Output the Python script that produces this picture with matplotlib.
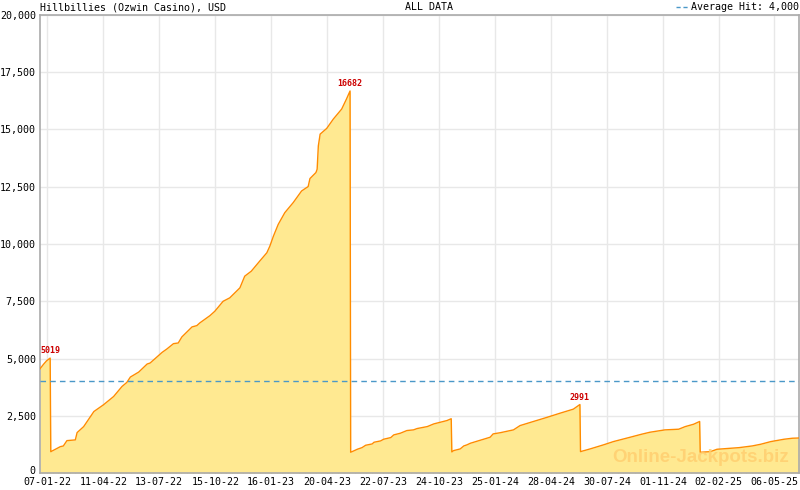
import numpy as np
import pandas as pd
import matplotlib
matplotlib.use('Agg')
import matplotlib.pyplot as plt
import matplotlib.dates as mdates
import matplotlib.transforms as mtransforms
from matplotlib.ticker import FuncFormatter

# 데이터
dates = [
    '2021-12-26', '2022-01-01', '2022-01-06', '2022-01-12', '2022-01-13',
    '2022-01-29', '2022-02-03', '2022-02-09', '2022-02-23', '2022-02-26',
    '2022-03-09', '2022-03-26', '2022-04-11', '2022-04-28', '2022-05-12',
    '2022-05-20', '2022-05-26', '2022-06-09', '2022-06-23', '2022-06-28',
    '2022-07-18', '2022-07-26', '2022-08-06', '2022-08-14', '2022-08-20',
    '2022-09-06', '2022-09-14', '2022-09-19', '2022-10-06', '2022-10-14',
    '2022-10-28', '2022-11-08', '2022-11-25', '2022-12-03', '2022-12-14',
    '2022-12-28', '2023-01-09', '2023-01-14', '2023-01-20', '2023-01-28',
    '2023-02-08', '2023-02-22', '2023-03-08', '2023-03-19', '2023-03-22',
    '2023-04-01', '2023-04-03', '2023-04-05', '2023-04-08', '2023-04-19',
    '2023-04-30', '2023-05-14', '2023-05-22', '2023-05-28', '2023-05-29',
    '2023-06-03', '2023-06-09', '2023-06-17', '2023-06-23', '2023-07-04',
    '2023-07-07', '2023-07-18', '2023-07-23', '2023-08-04', '2023-08-09',
    '2023-08-20', '2023-08-31', '2023-09-11', '2023-09-17', '2023-10-04',
    '2023-10-15', '2023-10-26', '2023-11-06', '2023-11-13', '2023-11-14',
    '2023-11-17', '2023-11-28', '2023-12-04', '2023-12-09', '2023-12-15',
    '2023-12-26', '2024-01-06', '2024-01-17', '2024-01-22', '2024-02-03',
    '2024-02-25', '2024-03-07', '2024-03-29', '2024-04-20', '2024-05-13',
    '2024-06-04', '2024-06-15', '2024-06-16', '2024-07-02', '2024-07-24',
    '2024-08-10', '2024-09-07', '2024-09-26', '2024-10-10', '2024-11-04',
    '2024-11-27', '2024-12-08', '2024-12-22', '2025-01-01', '2025-01-02',
    '2025-01-19', '2025-01-30', '2025-03-08', '2025-03-30', '2025-04-13',
    '2025-04-30', '2025-05-22', '2025-06-05', '2025-06-18',
]
values = [
    4550, 4750, 4900, 5019, 930,
    1151, 1180, 1414, 1445, 1765,
    2027, 2684, 2977, 3340, 3778,
    3953, 4190, 4409, 4759, 4803,
    5267, 5416, 5648, 5678, 5941,
    6379, 6436, 6554, 6873, 7062,
    7500, 7648, 8086, 8594, 8813,
    9251, 9618, 9907, 10345, 10857,
    11369, 11807, 12315, 12508, 12858,
    13121, 13265, 14285, 14798, 15047,
    15454, 15892, 16330, 16682, 906,
    963, 1036, 1108, 1211, 1270,
    1343, 1401, 1474, 1547, 1664,
    1737, 1854, 1883, 1941, 2027,
    2145, 2218, 2291, 2370, 920,
    978, 1051, 1182, 1226, 1299,
    1387, 1474, 1562, 1707, 1760,
    1883, 2071, 2247, 2422, 2613,
    2788, 2991, 933, 1051, 1226,
    1372, 1562, 1693, 1780, 1883,
    1912, 2027, 2130, 2250, 906,
    933, 1036, 1108, 1182, 1255,
    1372, 1474, 1518, 1530,
]
peak_dates = ['2022-01-12', '2023-05-28', '2024-06-15']
peak_values = [5019, 16682, 2991]
tick_dates = ['2022-01-07', '2022-04-11', '2022-07-13', '2022-10-15', '2023-01-16',
              '2023-04-20', '2023-07-22', '2023-10-24', '2024-01-25', '2024-04-28',
              '2024-07-30', '2024-11-01', '2025-02-02', '2025-05-06']
avg_hit = 4000

x = pd.to_datetime(dates)
ticks = pd.to_datetime(tick_dates)

mono = 'DejaVu Sans Mono'
plt.rcParams['font.family'] = mono

fig = plt.figure(figsize=(8, 4.9), dpi=100)
ax = fig.add_axes([40 / 800, 17 / 490, 759 / 800, 458 / 490])

ax.fill_between(x, values, 0, color='#ffe991', lw=0, zorder=2)
ax.plot(x, values, color='#ff8c00', lw=1.0, zorder=3)
ax.axhline(avg_hit, color='#4a98c8', lw=1, ls=(0, (4, 3)), zorder=4)

# 피크 값 표시
for d, v in zip(pd.to_datetime(peak_dates), peak_values):
    ax.annotate(str(v), xy=(d, v), xytext=(0, 2), textcoords='offset points',
                ha='center', va='bottom', fontsize=6, color='#cc0000',
                fontweight='bold', zorder=5)

ax.set_xlim(pd.Timestamp('2021-12-26'), pd.Timestamp('2025-06-16'))
ax.set_ylim(0, 20000)

ax.set_yticks(np.arange(0, 20001, 2500))
ax.yaxis.set_major_formatter(FuncFormatter(lambda v, p: f'{int(v):,}'))
ax.set_xticks(ticks)
ax.xaxis.set_major_formatter(mdates.DateFormatter('%d-%m-%y'))

# 보조 눈금 (라벨 간격의 1/10)
tnum = mdates.date2num(ticks)
step = (tnum[-1] - tnum[0]) / (len(tnum) - 1) / 10
lo, hi = ax.get_xlim()
minor = np.arange(tnum[0] - 2 * step, hi, step)
ax.set_xticks(minor[minor >= lo], minor=True)

ax.grid(True, which='major', color='#e8e8e8', lw=1, zorder=0)
ax.set_axisbelow(True)
for s in ax.spines.values():
    s.set_color('#aaaaaa')
    s.set_linewidth(1.2)

ax.tick_params(axis='y', length=0, pad=3, labelsize=7.2)
ax.tick_params(axis='x', which='major', direction='in', length=5, color='#aaaaaa',
               pad=3, labelsize=7.2)
ax.tick_params(axis='x', which='minor', direction='in', length=4, color='#aaaaaa')

# "0" 라벨이 날짜 라벨과 겹치지 않게 살짝 위로
zero_lbl = ax.get_yticklabels()[0]
zero_lbl.set_transform(zero_lbl.get_transform() +
                       mtransforms.ScaledTranslation(0, 3 / 100, fig.dpi_scale_trans))

# 워터마크
ax.text(0.987, 0.015, 'Online-Jackpots.biz', transform=ax.transAxes, ha='right',
        va='bottom', fontsize=13.5, fontweight='bold', family='Liberation Sans',
        color='#ffcf70', alpha=0.85, zorder=4)

# 상단 제목
fig.text(40 / 800, 1 - 7 / 490, 'Hillbillies (Ozwin Casino), USD', ha='left',
         va='center', fontsize=7.2)
fig.text(429 / 800, 1 - 7 / 490, 'ALL DATA', ha='center', va='center', fontsize=7.2)
fig.text(799 / 800, 1 - 7 / 490, 'Average Hit: 4,000', ha='right', va='center',
         fontsize=7.2)
fig.lines.append(plt.Line2D([676 / 800, 690 / 800], [1 - 7 / 490, 1 - 7 / 490],
                            transform=fig.transFigure, color='#4a98c8', lw=1,
                            ls=(0, (3, 2))))

fig.savefig('out.png', dpi=100)
